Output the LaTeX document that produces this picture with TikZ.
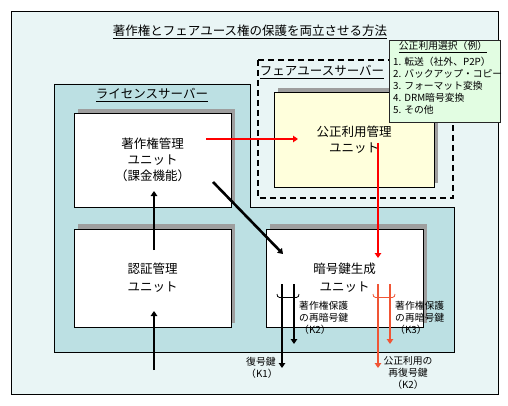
\documentclass[tikz,border=0pt]{standalone}
\usepackage{fontspec}
\setmainfont{Noto Sans CJK JP}
\usetikzlibrary{arrows.meta}
\definecolor{bgc}{HTML}{E9F5F5}
\definecolor{licc}{HTML}{BCE0E3}
\definecolor{yelc}{HTML}{FFFFDC}
\definecolor{grnc}{HTML}{E2FDE2}
\definecolor{orgc}{HTML}{F05535}
\definecolor{shdc}{gray}{0.62}
\begin{document}
\begin{tikzpicture}[x=1pt,y=-1pt,
  unitbox/.style={draw=black,line width=0.9pt,fill=white,inner sep=0pt,align=center,
    font=\fontsize{12.5}{16}\selectfont},
  shadowbox/.style={fill=shdc,draw=none},
  bigtxt/.style={inner sep=0pt,font=\fontsize{12.5}{16}\selectfont},
  smalltxt/.style={inner sep=0pt,font=\fontsize{9.8}{12}\selectfont},
  listtxt/.style={inner sep=0pt,anchor=west,font=\fontsize{9.8}{12}\selectfont},
  arr/.style={line width=2.6pt,-{Triangle[length=5pt,width=6.5pt]}},
  brace/.style={line width=0.8pt}
]
\useasboundingbox (0,0) rectangle (508,406);
% outer frame
\draw[fill=bgc,line width=0.9pt] (11,11) rectangle (498,394);
\node[bigtxt] (title) at (250,32) {\underline{著作権とフェアユース権の保護を両立させる方法}};
% license server (L-shape)
\draw[fill=licc,line width=0.9pt] (54,84) -- (250,84) -- (250,207) -- (454,207) -- (454,352) -- (54,352) -- cycle;
\node[bigtxt] (lictitle) at (152,95) {\underline{ライセンスサーバー}};
% fair use server
\draw[line width=2.2pt,dash pattern=on 6pt off 4pt] (258,60) rectangle (453,198);
\node[bigtxt] (fairtitle) at (322,72) {\underline{フェアユースサーバー}};
% shadows
\fill[shadowbox] (278,88) rectangle (438,183);
\fill[shadowbox] (78,109) rectangle (235,203);
\fill[shadowbox] (78,224) rectangle (235,323);
\fill[shadowbox] (270,224) rectangle (427,323);
% units
\node[unitbox,fill=yelc,minimum width=160pt,minimum height=95pt] (fair) at (354,139.5) {公正利用管理\\ユニット};
\node[unitbox,minimum width=157pt,minimum height=94pt] (lu) at (152.5,160) {著作権管理\\ユニット\\（課金機能）};
\node[unitbox,minimum width=157pt,minimum height=98pt,font=\fontsize{12.5}{18}\selectfont] (auth) at (152.5,278) {認証管理\\ユニット};
\node[unitbox,minimum width=157pt,minimum height=98pt,font=\fontsize{12.5}{18}\selectfont] (key) at (344.5,278) {暗号鍵生成\\ユニット};
% selection box
\draw[fill=grnc,draw=black!85,line width=0.9pt] (389,40) rectangle (500,122);
\node[smalltxt] (seltitle) at (443,47) {\underline{公正利用選択（例）}};
\node[listtxt] (s1) at (393,62) {1. 転送（社外、P2P）};
\node[listtxt] (s2) at (393,74) {2. バックアップ・コピー};
\node[listtxt] (s3) at (393,86) {3. フォーマット変換};
\node[listtxt] (s4) at (393,98) {4. DRM暗号変換};
\node[listtxt] (s5) at (393,110) {5. その他};
% coordinates
\coordinate (inA) at (154,370);
\coordinate (authin) at (154,311);
\coordinate (authout) at (154,250);
\coordinate (luin) at (154,191);
\coordinate (luout) at (213,182);
\coordinate (keyin) at (283,254);
\coordinate (luout2) at (206,139);
\coordinate (fairin) at (298,139);
\coordinate (fairout) at (378,143);
\coordinate (keyin2) at (378,258);
\coordinate (k1s) at (282,284);
\coordinate (k1e) at (282,368);
\coordinate (k2s) at (294,284);
\coordinate (k2e) at (294,344);
\coordinate (r1s) at (378,284);
\coordinate (r1e) at (378,368);
\coordinate (r2s) at (390,284);
\coordinate (r2e) at (390,344);
% arrows
\draw[arr] (inA) -- (authin);
\draw[arr] (authout) -- (luin);
\draw[arr] (luout) -- (keyin);
\draw[arr,red] (luout2) -- (fairin);
\draw[arr,red] (fairout) -- (keyin2);
\draw[arr] (k1s) -- (k1e);
\draw[arr] (k2s) -- (k2e);
\draw[arr,orgc] (r1s) -- (r1e);
\draw[arr,orgc] (r2s) -- (r2e);
% brace marks
\draw[brace] (277,294) to[out=-90,in=180] (279.5,297.5) -- (296.5,297.5) to[out=0,in=-90] (299,294);
\draw[brace,orgc] (373,294) to[out=-90,in=180] (375.5,297.5) -- (392.5,297.5) to[out=0,in=-90] (395,294);
% labels
\node[smalltxt,align=left,anchor=north west] (lk2) at (299,301) {著作権保護\\の再暗号鍵\\（K2）};
\node[smalltxt,align=left,anchor=north west] (lk3) at (395,301) {著作権保護\\の再暗号鍵\\（K3）};
\node[smalltxt,align=left,anchor=north west] (lk1) at (246,357) {復号鍵\\（K1）};
\node[smalltxt,align=center,anchor=north] (lkf) at (408,356) {公正利用の\\再復号鍵\\（K2）};
\end{tikzpicture}
\end{document}
